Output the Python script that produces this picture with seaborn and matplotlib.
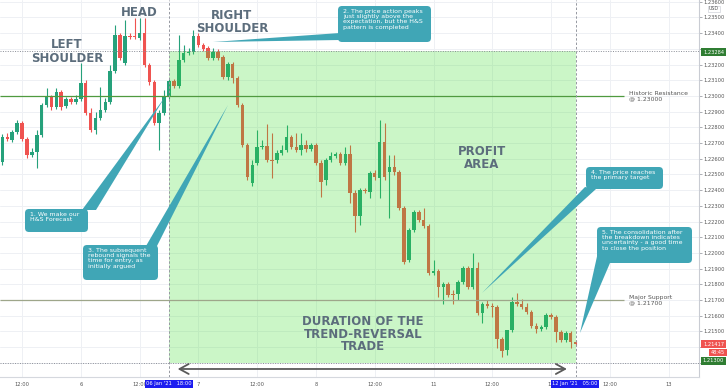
import matplotlib
matplotlib.use("Agg")
import matplotlib.pyplot as plt
import seaborn as sns
import numpy as np
import pandas as pd
from matplotlib.patches import Rectangle, Polygon, FancyBboxPatch
from matplotlib.transforms import IdentityTransform

# ---------------- data (EUR/USD, hourly bars; 0 = 06 Jan '21 18:00) ----------------
bar_index = list(range(-34, 84))
opens = [1.22579, 1.22738, 1.22719, 1.22770, 1.22828, 1.22726, 1.22624, 1.22643, 1.22751, 1.22942,
         1.22993, 1.22929, 1.23025, 1.22936, 1.22980, 1.22961, 1.22980, 1.23082, 1.22891, 1.22783,
         1.22859, 1.22910, 1.22961, 1.23159, 1.23388, 1.23210, 1.23382, 1.23382, 1.23369, 1.23401,
         1.23197, 1.23089, 1.22828, 1.22891, 1.22993, 1.23095, 1.23063, 1.23229, 1.23273, 1.23280,
         1.23382, 1.23324, 1.23305, 1.23242, 1.23280, 1.23248, 1.23121, 1.23203, 1.23114, 1.22942,
         1.22688, 1.22446, 1.22573, 1.22675, 1.22681, 1.22592, 1.22592, 1.22637, 1.22656, 1.22738,
         1.22675, 1.22656, 1.22688, 1.22662, 1.22688, 1.22573, 1.22465, 1.22592, 1.22617, 1.22630,
         1.22573, 1.22630, 1.22383, 1.22235, 1.22402, 1.22389, 1.22509, 1.22477, 1.22707, 1.22515,
         1.22547, 1.22515, 1.22286, 1.21955, 1.22146, 1.22261, 1.22210, 1.22171, 1.21872, 1.21885,
         1.21783, 1.21802, 1.21738, 1.21738, 1.21815, 1.21904, 1.21783, 1.21904, 1.21617, 1.21674,
         1.21662, 1.21655, 1.21452, 1.21382, 1.21509, 1.21687, 1.21674, 1.21655, 1.21623, 1.21534,
         1.21515, 1.21527, 1.21604, 1.21592, 1.21496, 1.21445, 1.21490, 1.21432]
highs = [1.22757, 1.22764, 1.22783, 1.22847, 1.22840, 1.22738, 1.22668, 1.22783, 1.22955, 1.23050,
         1.23006, 1.23050, 1.23038, 1.22993, 1.22993, 1.23006, 1.23210, 1.23101, 1.22923, 1.22898,
         1.23057, 1.22987, 1.23197, 1.23452, 1.23401, 1.23484, 1.23401, 1.23496, 1.23496, 1.23496,
         1.23210, 1.23101, 1.22910, 1.23038, 1.23108, 1.23108, 1.23388, 1.23324, 1.23305, 1.23420,
         1.23401, 1.23337, 1.23318, 1.23305, 1.23299, 1.23261, 1.23216, 1.23216, 1.23127, 1.22955,
         1.22700, 1.22592, 1.22783, 1.22719, 1.22821, 1.22764, 1.22656, 1.22688, 1.22815, 1.22751,
         1.22764, 1.22764, 1.22719, 1.22700, 1.22700, 1.22592, 1.22605, 1.22643, 1.22643, 1.22643,
         1.22675, 1.22688, 1.22402, 1.22415, 1.22415, 1.22522, 1.22528, 1.22847, 1.22828, 1.22624,
         1.22624, 1.22528, 1.22299, 1.22159, 1.22274, 1.22274, 1.22286, 1.22184, 1.21955, 1.21898,
         1.21815, 1.21815, 1.21764, 1.21828, 1.21917, 1.21917, 1.22000, 1.21942, 1.21687, 1.21700,
         1.21681, 1.21668, 1.21464, 1.21509, 1.21719, 1.21745, 1.21706, 1.21681, 1.21636, 1.21553,
         1.21541, 1.21617, 1.21617, 1.21604, 1.21509, 1.21503, 1.21503, 1.21445]
lows = [1.22560, 1.22713, 1.22707, 1.22757, 1.22713, 1.22605, 1.22611, 1.22541, 1.22738, 1.22929,
        1.22910, 1.22917, 1.22910, 1.22923, 1.22949, 1.22949, 1.22968, 1.22878, 1.22770, 1.22757,
        1.22847, 1.22898, 1.22949, 1.23146, 1.23229, 1.23197, 1.23363, 1.23363, 1.23356, 1.23184,
        1.23070, 1.22815, 1.22656, 1.22878, 1.22980, 1.23050, 1.23050, 1.23216, 1.23261, 1.23267,
        1.23312, 1.23286, 1.23229, 1.23229, 1.23229, 1.23108, 1.23101, 1.23082, 1.22929, 1.22675,
        1.22465, 1.22427, 1.22560, 1.22662, 1.22579, 1.22477, 1.22573, 1.22624, 1.22643, 1.22662,
        1.22643, 1.22624, 1.22643, 1.22649, 1.22560, 1.22356, 1.22433, 1.22579, 1.22605, 1.22560,
        1.22560, 1.22318, 1.22133, 1.22178, 1.22383, 1.22350, 1.22465, 1.22350, 1.22465, 1.22222,
        1.22496, 1.22274, 1.21929, 1.21942, 1.22133, 1.22197, 1.22159, 1.21859, 1.21859, 1.21719,
        1.21674, 1.21719, 1.21674, 1.21700, 1.21802, 1.21770, 1.21770, 1.21604, 1.21553, 1.21649,
        1.21592, 1.21394, 1.21337, 1.21350, 1.21496, 1.21662, 1.21643, 1.21611, 1.21522, 1.21490,
        1.21503, 1.21515, 1.21579, 1.21432, 1.21432, 1.21432, 1.21394, 1.21407]
closes = [1.22738, 1.22726, 1.22770, 1.22828, 1.22726, 1.22624, 1.22643, 1.22751, 1.22942, 1.22993,
          1.22929, 1.23025, 1.22929, 1.22980, 1.22961, 1.22980, 1.23082, 1.22891, 1.22783, 1.22859,
          1.22910, 1.22961, 1.23159, 1.23388, 1.23242, 1.23382, 1.23375, 1.23375, 1.23401, 1.23197,
          1.23089, 1.22828, 1.22891, 1.22993, 1.23095, 1.23063, 1.23229, 1.23273, 1.23280, 1.23382,
          1.23324, 1.23299, 1.23242, 1.23280, 1.23242, 1.23121, 1.23203, 1.23114, 1.22942, 1.22688,
          1.22484, 1.22560, 1.22675, 1.22681, 1.22592, 1.22585, 1.22637, 1.22656, 1.22738, 1.22675,
          1.22656, 1.22688, 1.22662, 1.22688, 1.22573, 1.22452, 1.22592, 1.22617, 1.22630, 1.22573,
          1.22630, 1.22383, 1.22235, 1.22402, 1.22395, 1.22509, 1.22484, 1.22707, 1.22484, 1.22547,
          1.22515, 1.22286, 1.21942, 1.22146, 1.22261, 1.22210, 1.22171, 1.21872, 1.21885, 1.21783,
          1.21802, 1.21732, 1.21735, 1.21815, 1.21904, 1.21783, 1.21904, 1.21617, 1.21674, 1.21662,
          1.21655, 1.21452, 1.21375, 1.21509, 1.21687, 1.21674, 1.21655, 1.21623, 1.21534, 1.21515,
          1.21527, 1.21604, 1.21592, 1.21496, 1.21445, 1.21490, 1.21432, 1.21417]

tick_pos = [-30, -18, -6, 6, 18, 30, 42, 54, 66, 78, 90, 102]
tick_labels = ["12:00", "6", "12:00", "7", "12:00", "8", "12:00", "11", "12:00", "12", "12:00", "13"]
price_ticks = [1.213, 1.214, 1.215, 1.216, 1.217, 1.218, 1.219, 1.220, 1.221, 1.222, 1.223, 1.224,
               1.225, 1.226, 1.227, 1.228, 1.229, 1.230, 1.231, 1.232, 1.233, 1.234, 1.235, 1.236]
hidden_price_labels = [1.213, 1.214, 1.233]   # covered by the price tags in the reference
entry_bar, exit_bar = 0, 83
entry_label, exit_label = "06 Jan '21   18:00", "12 Jan '21   05:00"
resistance, support = 1.23000, 1.21700
target_top, target_bottom = 1.23284, 1.21300
last_price = 1.21417

df = pd.DataFrame({"t": bar_index, "open": opens, "high": highs, "low": lows, "close": closes})
df["up"] = df["close"] >= df["open"]

# ---------------- figure ----------------
sns.set_theme(style="white")
plt.rcParams["font.family"] = ["DejaVu Sans"]

W, H = 728, 391
fig = plt.figure(figsize=(W / 100, H / 100), dpi=100)
fig.patch.set_facecolor("white")
ax = fig.add_axes([0, 14 / H, 699 / W, 377 / H])
ax.set_facecolor("white")

UP, DOWN = "#26a17b", "#ef5350"
cols = np.where(df["up"], UP, DOWN)

ax.vlines(df["t"], df["low"], df["high"], colors=cols, lw=0.8, zorder=2)
body_low = np.minimum(df["open"], df["close"])
body_h = np.maximum((df["close"] - df["open"]).abs(), 0.000025)
ax.bar(df["t"], body_h, bottom=body_low, width=0.72, color=cols, edgecolor="none", zorder=2.5)

ax.set_xlim(-34.5, 108.2)
ax.set_ylim(1.21210, 1.23611)

# axes / grid
ax.set_yticks(price_ticks)
ax.set_yticklabels(["" if v in hidden_price_labels else f"{v:.5f}" for v in price_ticks])
ax.set_xticks(tick_pos)
ax.set_xticklabels(tick_labels)
ax.grid(True, color="#eef0f4", lw=0.7, zorder=0)
ax.set_axisbelow(True)
ax.yaxis.tick_right()
ax.tick_params(axis="y", labelsize=3.7, colors="#8a8d96", length=1.8, width=0.5, pad=1.5,
               labelcolor="#555555")
ax.tick_params(axis="x", labelsize=3.7, colors="#555555", length=0, pad=3.5)
for s in ["top", "left"]:
    ax.spines[s].set_visible(False)
ax.spines["right"].set_color("#c9ccd3")
ax.spines["bottom"].set_color("#d5d8de")
ax.spines["right"].set_linewidth(0.8)
ax.spines["bottom"].set_linewidth(0.8)

# profit area overlay
ax.add_patch(Rectangle((entry_bar, target_bottom), exit_bar - entry_bar, target_top - target_bottom,
                       facecolor=(0.2, 0.875, 0.137), alpha=0.25, edgecolor="none", zorder=3))

# levels
ax.hlines(resistance, -34.5, 92.9, color="#4f9a3f", lw=0.9, zorder=3.5)
ax.hlines(support, -34.5, 92.9, color="#9ea68a", lw=0.9, zorder=3.5)
ax.text(94.0, resistance, "Historic Resistance\n@ 1.23000", fontsize=4.4, color="#555555",
        va="center", ha="left", linespacing=1.0, zorder=5)
ax.text(94.0, support, "Major Support\n@ 1.21700", fontsize=4.4, color="#555555",
        va="center", ha="left", linespacing=1.0, zorder=5)
for lvl in (target_top, target_bottom):
    ax.axhline(lvl, color="#8a8d96", lw=0.7, ls=(0, (1, 1.5)), zorder=3.6)
for b in (entry_bar, exit_bar):
    ax.axvline(b, color="#9598a1", lw=0.7, ls=(0, (2.5, 2)), zorder=3.6)

# duration arrow
ax.annotate("", xy=(81.8, 1.21261), xytext=(1.2, 1.21261),
            arrowprops=dict(arrowstyle="<->,head_length=0.55,head_width=0.3", color="#5a5a5a", lw=1.3),
            zorder=4)

ID = IdentityTransform()


def P(x, y):
    return (x, H - y)


def ftext(x, y, s, **kw):
    fig.text(x, H - y, s, transform=ID, **kw)


# big labels
LBL = "#5c6d7c"
ftext(67, 51, "LEFT\nSHOULDER", ha="center", va="center", fontsize=8.5, fontweight="bold", color=LBL,
      linespacing=1.1)
ftext(139, 12, "HEAD", ha="center", va="center", fontsize=8.5, fontweight="bold", color=LBL)
ftext(232, 22, "RIGHT\nSHOULDER", ha="center", va="center", fontsize=8.5, fontweight="bold", color=LBL,
      linespacing=1.0)
ftext(482, 158, "PROFIT\nAREA", ha="center", va="center", fontsize=8.5, fontweight="bold", color=LBL,
      linespacing=1.0)
ftext(363, 334, "DURATION OF THE\nTREND-REVERSAL\nTRADE", ha="center", va="center", fontsize=8.5,
      fontweight="bold", color=LBL, linespacing=0.98)

# callouts
TEAL = "#40a6b6"
callouts = [
    ((25, 209, 88, 232), [(82, 210), (96, 210), (165, 97)], "1. We make our\nH&S Forecast"),
    ((338, 6, 431, 42), [(340, 33), (340, 40), (213, 42)],
     "2. The price action peaks\njust slightly above the\nexpectation, but the H&S\npattern is completed"),
    ((83, 245, 158, 280), [(146, 246), (157, 246), (228, 105)],
     "3. The subsequent\nrebound signals the\ntime for entry, as\ninitially argued"),
    ((586, 167, 663, 189), [(585, 187), (596, 189), (482, 293)], "4. The price reaches\nthe primary target"),
    ((597, 227, 692, 263), [(598, 252), (610, 263), (580, 333)],
     "5. The consolidation after\nthe breakdown indicates\nuncertainty - a good time\nto close the position"),
]
for (x0, y0, x1, y1), tri, txt in callouts:
    fig.add_artist(Polygon([P(*p) for p in tri], closed=True, facecolor=TEAL, edgecolor="none",
                           transform=ID, zorder=6))
    fig.add_artist(FancyBboxPatch(P(x0, y1), x1 - x0, y1 - y0, boxstyle="round,pad=0,rounding_size=4",
                                  facecolor=TEAL, edgecolor="none", transform=ID, zorder=6))
    ftext(x0 + 5, y0 + 3, txt, ha="left", va="top", fontsize=4.5, color="white", linespacing=1.05,
          zorder=7)


# price tags on right axis
def tag(y, s, fc, size=3.7, x=713.5):
    ftext(x, y, s, ha="center", va="center", fontsize=size, color="white", zorder=8,
          bbox=dict(boxstyle="square,pad=0.3", fc=fc, ec="none"))


tag(52, f"{target_top:.5f}", "#2f7d32")
tag(344, f"{last_price:.5f}", "#ef5350")
tag(352.5, "48:45", "#ef5350", size=3.5, x=718)
tag(361, f"{target_bottom:.5f}", "#2f7d32")
ftext(714, 9, "USD", ha="center", va="center", fontsize=3.4, color="#555555", zorder=8,
      bbox=dict(boxstyle="square,pad=0.2", fc="white", ec="#d0d3da", lw=0.5))

# date tags on x axis
for xp, s in ((169, entry_label), (575, exit_label)):
    ftext(xp, 384, s, ha="center", va="center", fontsize=3.7, color="white", zorder=8,
          bbox=dict(boxstyle="square,pad=0.3", fc="#1c1cf0", ec="none"))

fig.savefig("out.png", dpi=100, facecolor="white")
